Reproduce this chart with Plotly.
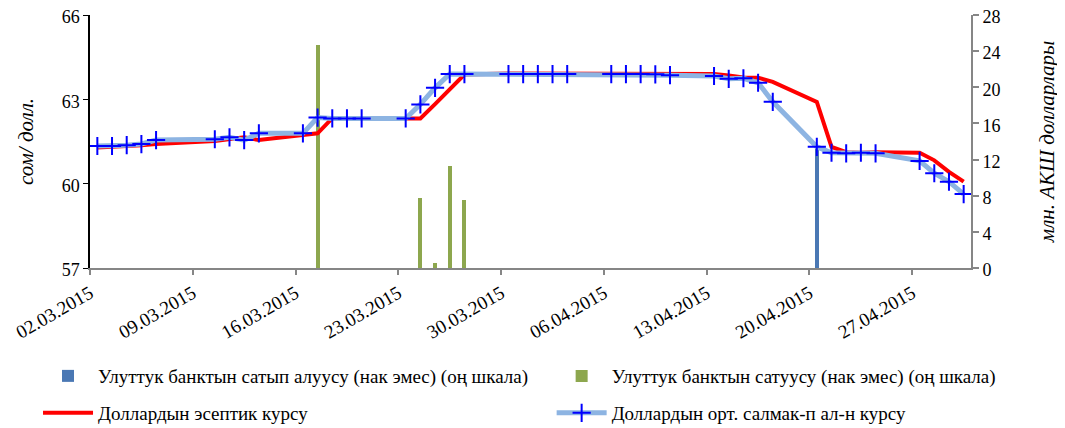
import plotly.graph_objects as go

dates = ["2015-03-02", "2015-03-03", "2015-03-04", "2015-03-05", "2015-03-06",
         "2015-03-10", "2015-03-11", "2015-03-12", "2015-03-13", "2015-03-16",
         "2015-03-17", "2015-03-18", "2015-03-19", "2015-03-20", "2015-03-23",
         "2015-03-24", "2015-03-25", "2015-03-26", "2015-03-27", "2015-03-30",
         "2015-03-31", "2015-04-01", "2015-04-02", "2015-04-03", "2015-04-06",
         "2015-04-07", "2015-04-08", "2015-04-09", "2015-04-10", "2015-04-13",
         "2015-04-14", "2015-04-15", "2015-04-16", "2015-04-17", "2015-04-20",
         "2015-04-21", "2015-04-22", "2015-04-23", "2015-04-24", "2015-04-27",
         "2015-04-28", "2015-04-29", "2015-04-30"]

avg_rate = [61.34, 61.34, 61.37, 61.41, 61.55,
            61.58, 61.65, 61.55, 61.79, 61.79,
            62.35, 62.32, 62.32, 62.32, 62.32,
            62.82, 63.41, 63.90, 63.90, 63.90,
            63.90, 63.90, 63.90, 63.90, 63.90,
            63.90, 63.90, 63.89, 63.86, 63.83,
            63.73, 63.75, 63.59, 62.91, 61.31,
            61.10, 61.08, 61.10, 61.08, 60.81,
            60.37, 60.07, 59.63]

official_rate = [61.29, 61.30, 61.34, 61.37, 61.41,
                 61.52, 61.58, 61.65, 61.55, 61.75,
                 61.79, 62.33, 62.32, 62.32, 62.32,
                 62.32, 62.83, 63.37, 63.88, 63.92,
                 63.92, 63.92, 63.92, 63.92, 63.92,
                 63.92, 63.92, 63.92, 63.92, 63.90,
                 63.85, 63.78, 63.77, 63.62, 62.91,
                 61.31, 61.12, 61.10, 61.12, 61.10,
                 60.83, 60.42, 60.07]

sale_dates = ["2015-03-17", "2015-03-24", "2015-03-25", "2015-03-26", "2015-03-27"]
sale_values = [24.7, 7.7, 0.5, 11.3, 7.5]

buy_dates = ["2015-04-20"]
buy_values = [13.4]

tick_start = "2015-03-02"
x_range = ["2015-03-02", "2015-05-01"]

DAY = 86400000
FONT = "Liberation Serif, DejaVu Serif, serif"

fig = go.Figure()

fig.add_trace(go.Bar(
    x=buy_dates, y=buy_values, name="Улуттук банктын сатып алуусу (нак эмес) (оң шкала)",
    marker=dict(color="#4A78B4", line=dict(width=0)), width=0.28 * DAY,
    xperiod=DAY, xperiodalignment="middle", yaxis="y", legend="legend",
))
fig.add_trace(go.Bar(
    x=sale_dates, y=sale_values, name="Улуттук банктын сатуусу (нак эмес) (оң шкала)",
    marker=dict(color="#8DA74E", line=dict(width=0)), width=0.28 * DAY,
    xperiod=DAY, xperiodalignment="middle", yaxis="y", legend="legend2",
))
fig.add_trace(go.Scatter(
    x=dates, y=official_rate, name="Доллардын эсептик курсу", mode="lines",
    line=dict(color="#FF0000", width=4), xperiod=DAY, xperiodalignment="middle",
    yaxis="y2", legend="legend3",
))
fig.add_trace(go.Scatter(
    x=dates, y=avg_rate, name="Доллардын орт. салмак-п ал-н курсу", mode="lines+markers",
    line=dict(color="#8DB4E2", width=5),
    marker=dict(symbol="cross-thin", size=13, color="#0000FF", line=dict(color="#0000FF", width=2)),
    xperiod=DAY, xperiodalignment="middle", yaxis="y2", legend="legend4",
))

def leg(x, y):
    return dict(
        orientation="h", x=x, xanchor="left", y=y, yanchor="middle",
        font=dict(family=FONT, size=19), bgcolor="rgba(0,0,0,0)", itemwidth=50,
    )

fig.update_layout(
    width=1057, height=420,
    margin=dict(l=82, r=94, t=7, b=160, autoexpand=False),
    paper_bgcolor="white", plot_bgcolor="white",
    font=dict(family=FONT, size=17, color="#000000"),
    bargap=0,
    showlegend=True,
    xaxis=dict(
        type="date", range=x_range, tick0=tick_start, dtick=7 * DAY,
        tickformat="%d.%m.%Y", tickangle=-30, showgrid=False, zeroline=False,
        showline=True, linecolor="#868686", linewidth=2, ticks="outside",
        tickcolor="#868686", ticklen=5, tickwidth=1.5, automargin=False,
        ticklabeloverflow="allow", tickfont=dict(family=FONT, size=19),
    ),
    yaxis=dict(
        side="right", range=[0, 28], dtick=4, showgrid=False, zeroline=False,
        showline=True, linecolor="#868686", linewidth=2, ticks="outside",
        tickcolor="#868686", ticklen=6, tickwidth=1.5, automargin=False,
        ticklabeloverflow="allow", ticklabelshift=2, tickfont=dict(family=FONT, size=18),
        title=dict(text="<i>млн. АКШ долларлары</i>", font=dict(family=FONT, size=21), standoff=40),
    ),
    yaxis2=dict(
        side="left", overlaying="y", range=[57, 66], dtick=3, showgrid=False, zeroline=False,
        showline=True, linecolor="#000000", linewidth=1.5, ticks="outside",
        tickcolor="#000000", ticklen=5, tickwidth=1.2, automargin=False,
        ticklabeloverflow="allow", ticklabelshift=2, tickfont=dict(family=FONT, size=18),
        title=dict(text="<i>сом/ долл.</i>", font=dict(family=FONT, size=21), standoff=22),
    ),
    legend=leg(-0.059, -0.427),
    legend2=leg(0.524, -0.427),
    legend3=leg(-0.059, -0.573),
    legend4=leg(0.524, -0.573),
)

fig.write_html("out.html")
